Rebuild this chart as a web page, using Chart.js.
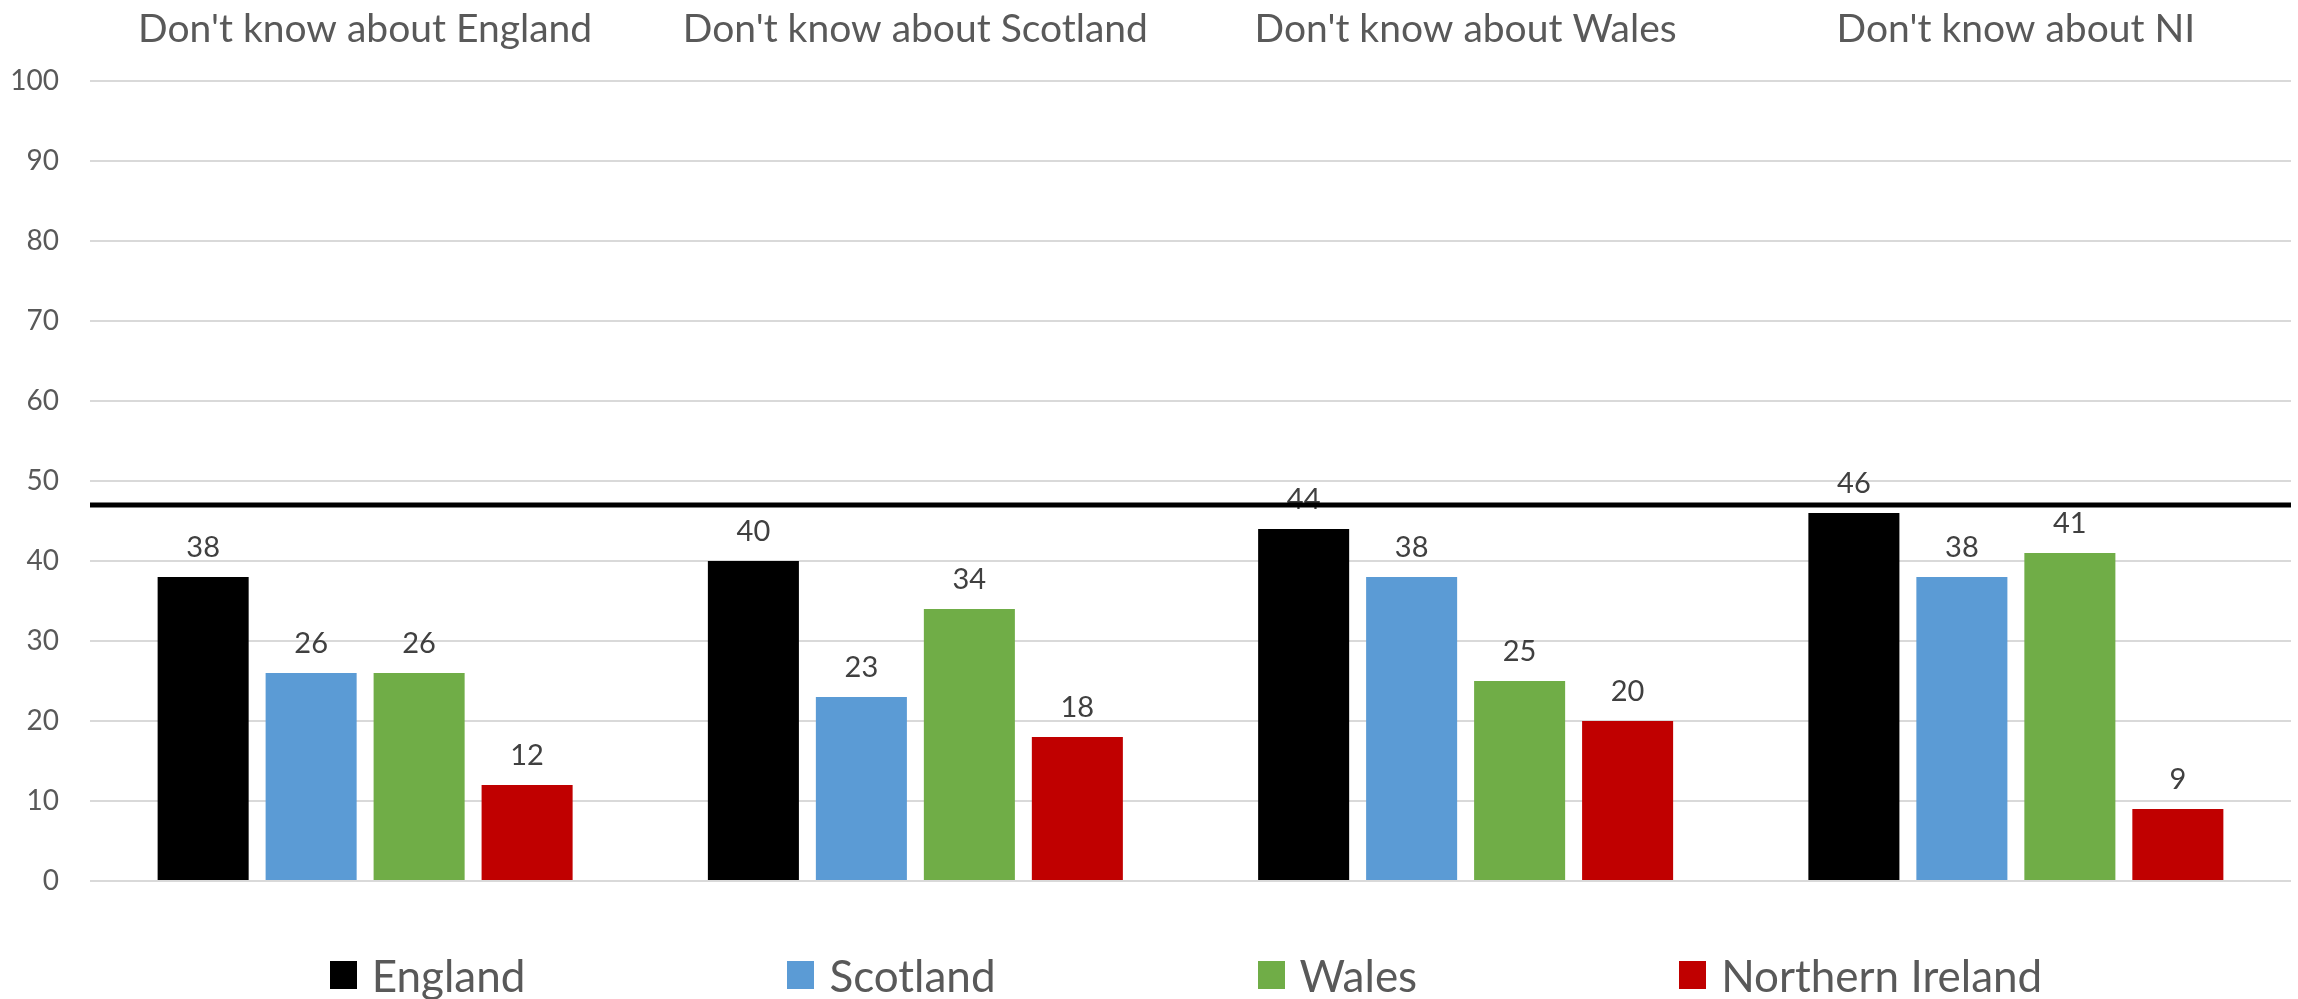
<!DOCTYPE html>
<html>
<head>
<meta charset="utf-8">
<script src="https://cdn.jsdelivr.net/npm/chart.js@4.4.1/dist/chart.umd.min.js"></script>
<style>
html,body{margin:0;padding:0;background:#fff;}
#wrap{position:relative;width:2298px;height:999px;overflow:hidden;}
#c{position:absolute;left:0;top:0;}
#legend{position:absolute;left:0;top:950px;width:2298px;box-sizing:border-box;padding-left:74px;display:flex;justify-content:center;gap:262px;font-family:Lato,sans-serif;font-size:44px;color:#595959;line-height:50px;}
.item{display:flex;align-items:center;white-space:nowrap;}
.box{width:27px;height:28px;margin-right:15px;}
</style>
</head>
<body>
<div id="wrap">
<canvas id="c" width="2298" height="999" style="width:2298px;height:999px"></canvas>
<div id="legend"></div>
</div>
<script>
const categories = ["Don't know about England", "Don't know about Scotland", "Don't know about Wales", "Don't know about NI"];
const seriesNames = ["England", "Scotland", "Wales", "Northern Ireland"];
const englandValues = [38, 40, 44, 46];
const scotlandValues = [26, 23, 38, 38];
const walesValues = [26, 34, 25, 41];
const northernIrelandValues = [12, 18, 20, 9];
const seriesColors = ["#000000", "#5B9BD5", "#70AD47", "#C00000"];
const referenceLine = 47;
const yMin = 0, yMax = 100, yStep = 10;

const seriesValues = [englandValues, scotlandValues, walesValues, northernIrelandValues];

const labelPlugin = {
  id: 'valueLabels',
  afterDatasetsDraw(chart) {
    const ctx = chart.ctx;
    ctx.save();
    ctx.font = '29px Lato';
    ctx.fillStyle = '#404040';
    ctx.textAlign = 'center';
    ctx.textBaseline = 'middle';
    chart.data.datasets.forEach((ds, i) => {
      const meta = chart.getDatasetMeta(i);
      meta.data.forEach((el, j) => {
        ctx.fillText(String(ds.data[j]), el.x, el.y - 29);
      });
    });
    // reference line on top
    const y = chart.scales.y.getPixelForValue(referenceLine);
    ctx.beginPath();
    ctx.strokeStyle = '#000000';
    ctx.lineWidth = 5;
    ctx.moveTo(chart.chartArea.left, y);
    ctx.lineTo(chart.chartArea.right, y);
    ctx.stroke();
    ctx.restore();
  }
};

const chart = new Chart(document.getElementById('c'), {
  type: 'bar',
  data: {
    labels: categories,
    datasets: seriesNames.map((name, i) => ({
      label: name,
      data: seriesValues[i],
      backgroundColor: seriesColors[i],
      borderWidth: 0,
      categoryPercentage: 0.785,
      barPercentage: 0.843
    }))
  },
  options: {
    responsive: false,
    animation: false,
    devicePixelRatio: 1,
    layout: { padding: { top: 0, left: 0, right: 7, bottom: 118 } },
    plugins: { legend: { display: false }, tooltip: { enabled: false } },
    scales: {
      x: {
        position: 'top',
        grid: { display: false, drawTicks: false },
        border: { display: false },
        ticks: { font: { family: 'Lato', size: 39 }, color: '#595959', padding: 28, maxRotation: 0 },
        afterFit: (scale) => { scale.height = 81; scale.paddingLeft = 0; scale.paddingRight = 0; }
      },
      y: {
        min: yMin, max: yMax,
        grid: { color: '#D9D9D9', lineWidth: 2, drawTicks: false },
        border: { display: false },
        ticks: { stepSize: yStep, font: { family: 'Lato', size: 28 }, color: '#595959', padding: 31 },
        afterFit: (scale) => { scale.width = 90; scale.paddingTop = 0; scale.paddingBottom = 0; }
      }
    }
  },
  plugins: [labelPlugin]
});

const legend = document.getElementById('legend');
chart.data.datasets.forEach(ds => {
  const item = document.createElement('div');
  item.className = 'item';
  const box = document.createElement('span');
  box.className = 'box';
  box.style.background = ds.backgroundColor;
  const txt = document.createElement('span');
  txt.textContent = ds.label;
  item.appendChild(box);
  item.appendChild(txt);
  legend.appendChild(item);
});
</script>
</body>
</html>
